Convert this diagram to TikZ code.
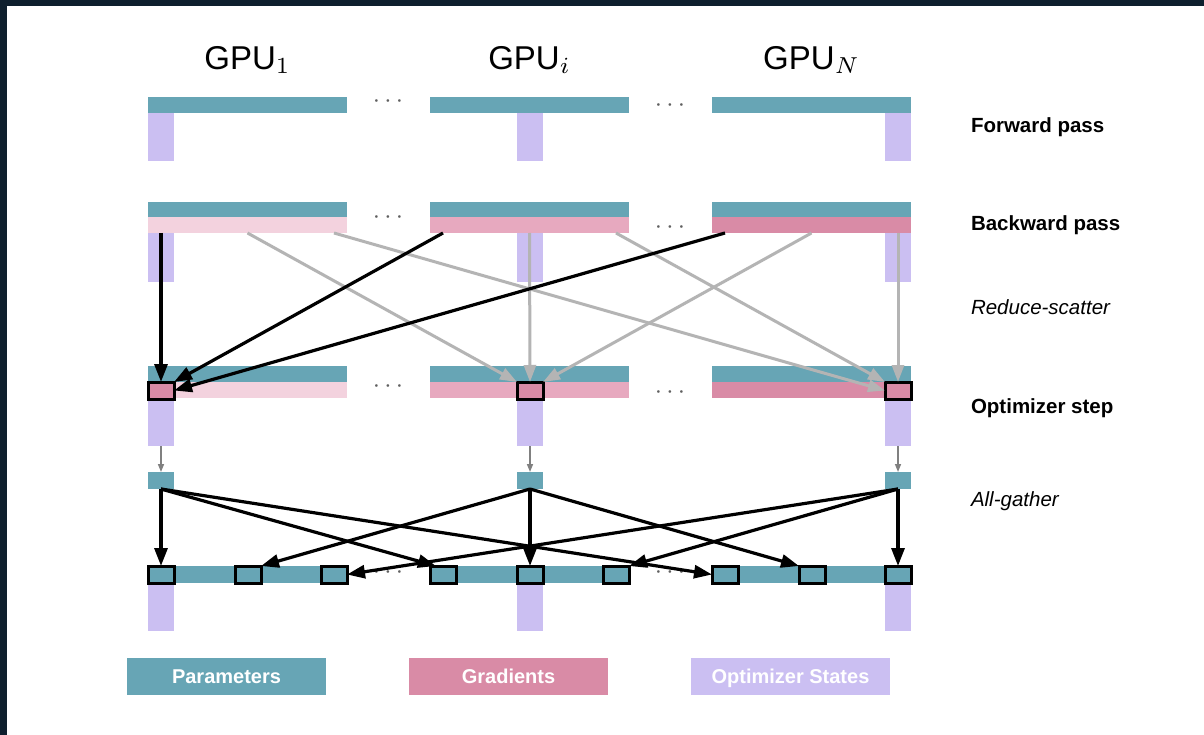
\documentclass[tikz,border=0pt]{standalone}
\usepackage{fontspec}
\setmainfont{Liberation Sans}
\usepackage{tikz}
\usetikzlibrary{arrows.meta,calc}
\definecolor{paramc}{HTML}{67A5B5}
\definecolor{gradc}{HTML}{D98BA6}
\definecolor{gradlight}{HTML}{F3D2DE}
\definecolor{gradmid}{HTML}{E7A9BF}
\definecolor{optc}{HTML}{CBBFF2}
\definecolor{framec}{HTML}{0E1F2E}
\definecolor{scatterc}{HTML}{B4B4B4}

\begin{document}
\begin{tikzpicture}[x=1pt,y=-1pt]
\tikzstyle{every node}+=[inner sep=0pt, outer sep=0pt]
\tikzstyle{bar}=[anchor=north west, minimum width=199pt, minimum height=16pt]
\tikzstyle{strip}=[anchor=north west, fill=optc, minimum width=26pt, minimum height=48pt]
\tikzstyle{slot}=[anchor=north west, draw=black, line width=3pt, minimum width=26pt, minimum height=17pt]
\tikzstyle{stage}=[anchor=west, font=\fontsize{20.5}{24}\selectfont]
\tikzstyle{key}=[minimum width=199pt, minimum height=37pt, text=white, text height=18pt, text depth=3.6pt, font=\fontsize{20}{24}\selectfont\bfseries]
\tikzstyle{gather}=[black, line width=3.2pt, -{Triangle[length=18pt,width=13pt]}]
\tikzstyle{scatter}=[scatterc, line width=3pt, -{Triangle[length=17pt,width=12pt]}]
\tikzstyle{hop}=[gray, line width=1.5pt, -{Triangle[length=8pt,width=6pt]}]
\tikzstyle{more}=[text=gray!75!black, scale=2.6]
\useasboundingbox (0,0) rectangle (1204,735);
\fill [white] (0,0) rectangle (1204,735);
\fill [framec] (0,0) rectangle (1204,6);
\fill [framec] (0,0) rectangle (7,735);
% GPU titles
\node [scale=3.3] (t1) at (247.5,60) {GPU$_1$};
\node [scale=3.3] (ti) at (529.5,60) {GPU$_i$};
\node [scale=3.3] (tN) at (811.5,60) {GPU$_N$};
% one column per GPU
\foreach \k/\x/\s/\g in {1/148/148/gradlight, i/430/517/gradmid, N/712/885/gradc}{
  \node [bar, fill=paramc] (fp\k) at (\x,97) {};
  \node [strip] (fs\k) at (\s,113) {};
  \node [bar, fill=paramc, minimum height=15pt] (bp\k) at (\x,202) {};
  \node [bar, fill=\g] (bg\k) at (\x,217) {};
  \node [strip, minimum height=49pt] (bs\k) at (\s,233) {};
  \node [bar, fill=paramc] (op\k) at (\x,366) {};
  \node [bar, fill=\g] (og\k) at (\x,382) {};
  \node [strip] (os\k) at (\s,398) {};
  \node [slot, fill=gradc] (o\k) at (\s,382) {};
  \node [strip, fill=paramc, minimum height=17pt] (a\k) at (\s,472) {};
  \node [bar, fill=paramc, minimum height=17pt] (ap\k) at (\x,566) {};
  \node [strip] (as\k) at (\s,583) {};
  \node [slot, fill=paramc] (b\k-l) at (\x,566) {};
  \node [slot, fill=paramc] (b\k-m) at (\x+87,566) {};
  \node [slot, fill=paramc] (b\k-r) at (\x+173,566) {};
  \draw [hop] (os\k.south) -- (a\k.north);
}
% dots between the GPUs
\node [more] (m1a) at (388,102) {$\cdots$};
\node [more] (m1b) at (670,106) {$\cdots$};
\node [more] (m2a) at (388,218) {$\cdots$};
\node [more] (m2b) at (670,228) {$\cdots$};
\node [more] (m3a) at (388,387) {$\cdots$};
\node [more] (m3b) at (670,393) {$\cdots$};
\node [more] (m5a) at (388,573) {$\cdots$};
\node [more] (m5b) at (670,573) {$\cdots$};
% reduce-scatter
\draw [scatter] (bg1.south) -- (oi.north west);
\draw [scatter] ($(bg1.south east)+(-13,0)$) -- (oN.west);
\draw [scatter] (bgi.south) -- (oi.north);
\draw [scatter] ($(bgi.south east)+(-13,0)$) -- (oN.north west);
\draw [scatter] (bgN.south) -- (oi.north east);
\draw [scatter] ($(bgN.south east)+(-13,0)$) -- (oN.north);
\draw [gather] ($(bg1.south west)+(13,0)$) -- (o1.north);
\draw [gather] ($(bgi.south west)+(13,0)$) -- (o1.north east);
\draw [gather] ($(bgN.south west)+(13,0)$) -- (o1.east);
% all-gather
\draw [gather] (a1.south) -- (b1-l.north);
\draw [gather] (a1.south) -- ($(bi-l.north west)+(6,0)$);
\draw [gather] (a1.south) -- (bN-l.west);
\draw [gather] (ai.south) -- (b1-m.north east);
\draw [gather] (ai.south) -- (bi-m.north);
\draw [gather] (ai.south) -- (bN-m.north west);
\draw [gather] (aN.south) -- (b1-r.east);
\draw [gather] (aN.south) -- (bi-r.north east);
\draw [gather] (aN.south) -- (bN-r.north);
% stage labels
\node [stage] (s1) at (971,127) {\bfseries Forward pass};
\node [stage] (s2) at (971,225) {\bfseries Backward pass};
\node [stage] (s3) at (971,307) {\itshape Reduce-scatter};
\node [stage] (s4) at (971,408) {\bfseries Optimizer step};
\node [stage] (s5) at (971,501) {\itshape All-gather};
% legend
\node [key, fill=paramc] (kp) at (226.5,676.5) {Parameters};
\node [key, fill=gradc] (kg) at (508.5,676.5) {Gradients};
\node [key, fill=optc] (ko) at (790.5,676.5) {Optimizer States};
\end{tikzpicture}
\end{document}
